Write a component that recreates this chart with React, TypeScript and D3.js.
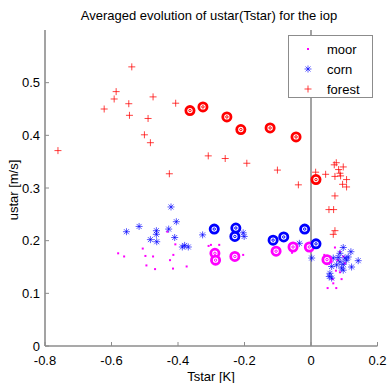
import React from "react";
import * as d3 from "d3";

const W = 389;
const H = 383;

const xTicks = [-0.8, -0.6, -0.4, -0.2, 0, 0.2];
const xTickLabels = ["-0.8", "-0.6", "-0.4", "-0.2", "0", "0.2"];
const yTicks = [0, 0.1, 0.2, 0.3, 0.4, 0.5];
const yTickLabels = ["0", "0.1", "0.2", "0.3", "0.4", "0.5"];

const forestT = [-0.761, -0.539, -0.586, -0.592, -0.622, -0.548, -0.546, -0.475, -0.49, -0.407, -0.501, -0.483, -0.426, -0.309, -0.258, -0.193, -0.101, 0.014, -0.038, 0.044, 0.07, 0.076, 0.097, 0.083, 0.087, 0.089, 0.072, 0.107, 0.095, 0.107, 0.072, 0.054, 0.068, 0.072, 0.067];
const forestU = [0.371, 0.53, 0.483, 0.469, 0.45, 0.46, 0.438, 0.473, 0.432, 0.461, 0.401, 0.386, 0.327, 0.361, 0.356, 0.347, 0.334, 0.33, 0.306, 0.326, 0.344, 0.348, 0.34, 0.335, 0.328, 0.323, 0.322, 0.316, 0.307, 0.302, 0.285, 0.259, 0.259, 0.219, 0.212];

const cornT = [-0.421, -0.405, -0.555, -0.517, -0.465, -0.465, -0.483, -0.464, -0.428, -0.41, -0.38, -0.387, -0.369, -0.326, -0.204, -0.201, -0.035, 0.002, 0.097, 0.12, 0.142, 0.122, 0.087, 0.082, 0.067, 0.102, 0.097, 0.112, 0.107, 0.062, 0.077, 0.092, 0.057, 0.055, 0.062, 0.097, 0.087];
const cornU = [0.264, 0.236, 0.217, 0.227, 0.219, 0.212, 0.202, 0.198, 0.222, 0.206, 0.191, 0.188, 0.188, 0.211, 0.215, 0.208, 0.195, 0.167, 0.187, 0.179, 0.162, 0.15, 0.176, 0.168, 0.167, 0.167, 0.155, 0.169, 0.163, 0.151, 0.154, 0.148, 0.138, 0.132, 0.129, 0.144, 0.16];

const moorT = [-0.58, -0.562, -0.506, -0.498, -0.475, -0.495, -0.469, -0.432, -0.408, -0.414, -0.424, -0.415, -0.374, -0.308, -0.301, -0.276, -0.204, -0.057, 0.04, 0.072, 0.087, 0.062, 0.08, 0.097, 0.102, 0.075, 0.087, 0.065, 0.092, 0.05, 0.076, 0.067];
const moorU = [0.176, 0.17, 0.185, 0.171, 0.17, 0.153, 0.146, 0.217, 0.193, 0.173, 0.163, 0.147, 0.151, 0.19, 0.192, 0.192, 0.173, 0.177, 0.173, 0.187, 0.179, 0.16, 0.163, 0.17, 0.157, 0.143, 0.14, 0.127, 0.127, 0.11, 0.11, 0.119];

const forestAvgT = [-0.364, -0.325, -0.253, -0.211, -0.123, -0.045, 0.015];
const forestAvgU = [0.447, 0.454, 0.435, 0.411, 0.414, 0.397, 0.316];
const cornAvgT = [-0.291, -0.226, -0.229, -0.114, -0.082, -0.019, 0.015];
const cornAvgU = [0.222, 0.224, 0.208, 0.201, 0.207, 0.222, 0.194];
const moorAvgT = [-0.289, -0.287, -0.229, -0.105, -0.054, -0.005, 0.048];
const moorAvgU = [0.176, 0.163, 0.17, 0.18, 0.188, 0.188, 0.164];

const legendNames = ["moor", "corn", "forest"];

const RED = "#ff0000";
const BLUE = "#0000ff";
const MAG = "#ff00ff";
const AXIS = "#8c8c8c";
const FONT = "'Liberation Sans', Arial, Helvetica, sans-serif";

const x = d3.scaleLinear().domain([-0.8, 0.2]).range([45, 377.5]);
const y = d3.scaleLinear().domain([0, 0.6]).range([346, 30]);

function Plus({ cx, cy, color }: { cx: number; cy: number; color: string }) {
  const s = 3.5;
  return (
    <path
      d={`M${cx - s},${cy}H${cx + s}M${cx},${cy - s}V${cy + s}`}
      stroke={color}
      strokeWidth={1}
      strokeOpacity={0.75}
      fill="none"
    />
  );
}

function Star({ cx, cy, color }: { cx: number; cy: number; color: string }) {
  const s = 3.5;
  const d = 2.5;
  return (
    <path
      d={`M${cx - s},${cy}H${cx + s}M${cx},${cy - s}V${cy + s}M${cx - d},${cy - d}L${cx + d},${cy + d}M${cx - d},${cy + d}L${cx + d},${cy - d}`}
      stroke={color}
      strokeWidth={1}
      strokeOpacity={0.65}
      fill="none"
    />
  );
}

function Dot({ cx, cy, color }: { cx: number; cy: number; color: string }) {
  return <rect x={cx - 1} y={cy - 1} width={2} height={2} fill={color} />;
}

function Ring({ cx, cy, color }: { cx: number; cy: number; color: string }) {
  return (
    <g>
      <circle cx={cx} cy={cy} r={4.1} fill="white" stroke={color} strokeWidth={2.8} />
      <circle cx={cx} cy={cy} r={1.2} fill="none" stroke={color} strokeWidth={1} />
    </g>
  );
}

export default function App() {
  return (
    <svg
      width={W}
      height={H}
      style={{ position: "absolute", left: 0, top: 0, background: "white" }}
      fontFamily={FONT}
    >
      <rect x={0} y={0} width={W} height={H} fill="white" />
      <text x={209} y={20} textAnchor="middle" fontSize={13} fill="#000">
        Averaged evolution of ustar(Tstar) for the iop
      </text>

      <line x1={x(0)} x2={x(0)} y1={y(0.6)} y2={y(0)} stroke={AXIS} strokeWidth={1.6} />

      <line x1={x(-0.8)} x2={x(-0.8)} y1={y(0.6)} y2={y(0)} stroke={AXIS} strokeWidth={1.6} />
      <line x1={x(-0.8)} x2={x(0.2)} y1={y(0)} y2={y(0)} stroke={AXIS} strokeWidth={1.6} />
      {xTicks.map((t, i) => (
        <g key={"xt" + i}>
          <line x1={x(t)} x2={x(t)} y1={y(0)} y2={y(0) - 4} stroke={AXIS} strokeWidth={1} />
          <text x={x(t)} y={365} textAnchor="middle" fontSize={13} fill="#000">
            {xTickLabels[i]}
          </text>
        </g>
      ))}
      {yTicks.map((t, i) => (
        <g key={"yt" + i}>
          <line x1={x(-0.8)} x2={x(-0.8) + 4} y1={y(t)} y2={y(t)} stroke={AXIS} strokeWidth={1} />
          <text x={40} y={y(t) + 4.5} textAnchor="end" fontSize={13} fill="#000">
            {yTickLabels[i]}
          </text>
        </g>
      ))}
      <text x={211} y={381} textAnchor="middle" fontSize={13} fill="#000">
        Tstar [K]
      </text>
      <text
        transform={`translate(18,190) rotate(-90)`}
        textAnchor="middle"
        fontSize={13}
        fill="#000"
      >
        ustar [m/s]
      </text>

      {moorT.map((t, i) => (
        <Dot key={"m" + i} cx={x(t)} cy={y(moorU[i])} color={MAG} />
      ))}
      {cornT.map((t, i) => (
        <Star key={"c" + i} cx={x(t)} cy={y(cornU[i])} color={BLUE} />
      ))}
      {forestT.map((t, i) => (
        <Plus key={"f" + i} cx={x(t)} cy={y(forestU[i])} color={RED} />
      ))}
      {moorAvgT.map((t, i) => (
        <Ring key={"ma" + i} cx={x(t)} cy={y(moorAvgU[i])} color={MAG} />
      ))}
      {cornAvgT.map((t, i) => (
        <Ring key={"ca" + i} cx={x(t)} cy={y(cornAvgU[i])} color={BLUE} />
      ))}
      {forestAvgT.map((t, i) => (
        <Ring key={"fa" + i} cx={x(t)} cy={y(forestAvgU[i])} color={RED} />
      ))}

      <rect x={288.5} y={35.5} width={84} height={62} fill="white" stroke={AXIS} strokeWidth={1} />
      {legendNames.map((n, i) => {
        const ly = 49 + i * 20;
        return (
          <g key={"lg" + i}>
            {i === 0 && <Dot cx={308} cy={ly} color={MAG} />}
            {i === 1 && <Star cx={308} cy={ly} color={BLUE} />}
            {i === 2 && <Plus cx={308} cy={ly} color={RED} />}
            <text x={327} y={ly + 4.5} fontSize={13} fill="#000">
              {n}
            </text>
          </g>
        );
      })}
    </svg>
  );
}
